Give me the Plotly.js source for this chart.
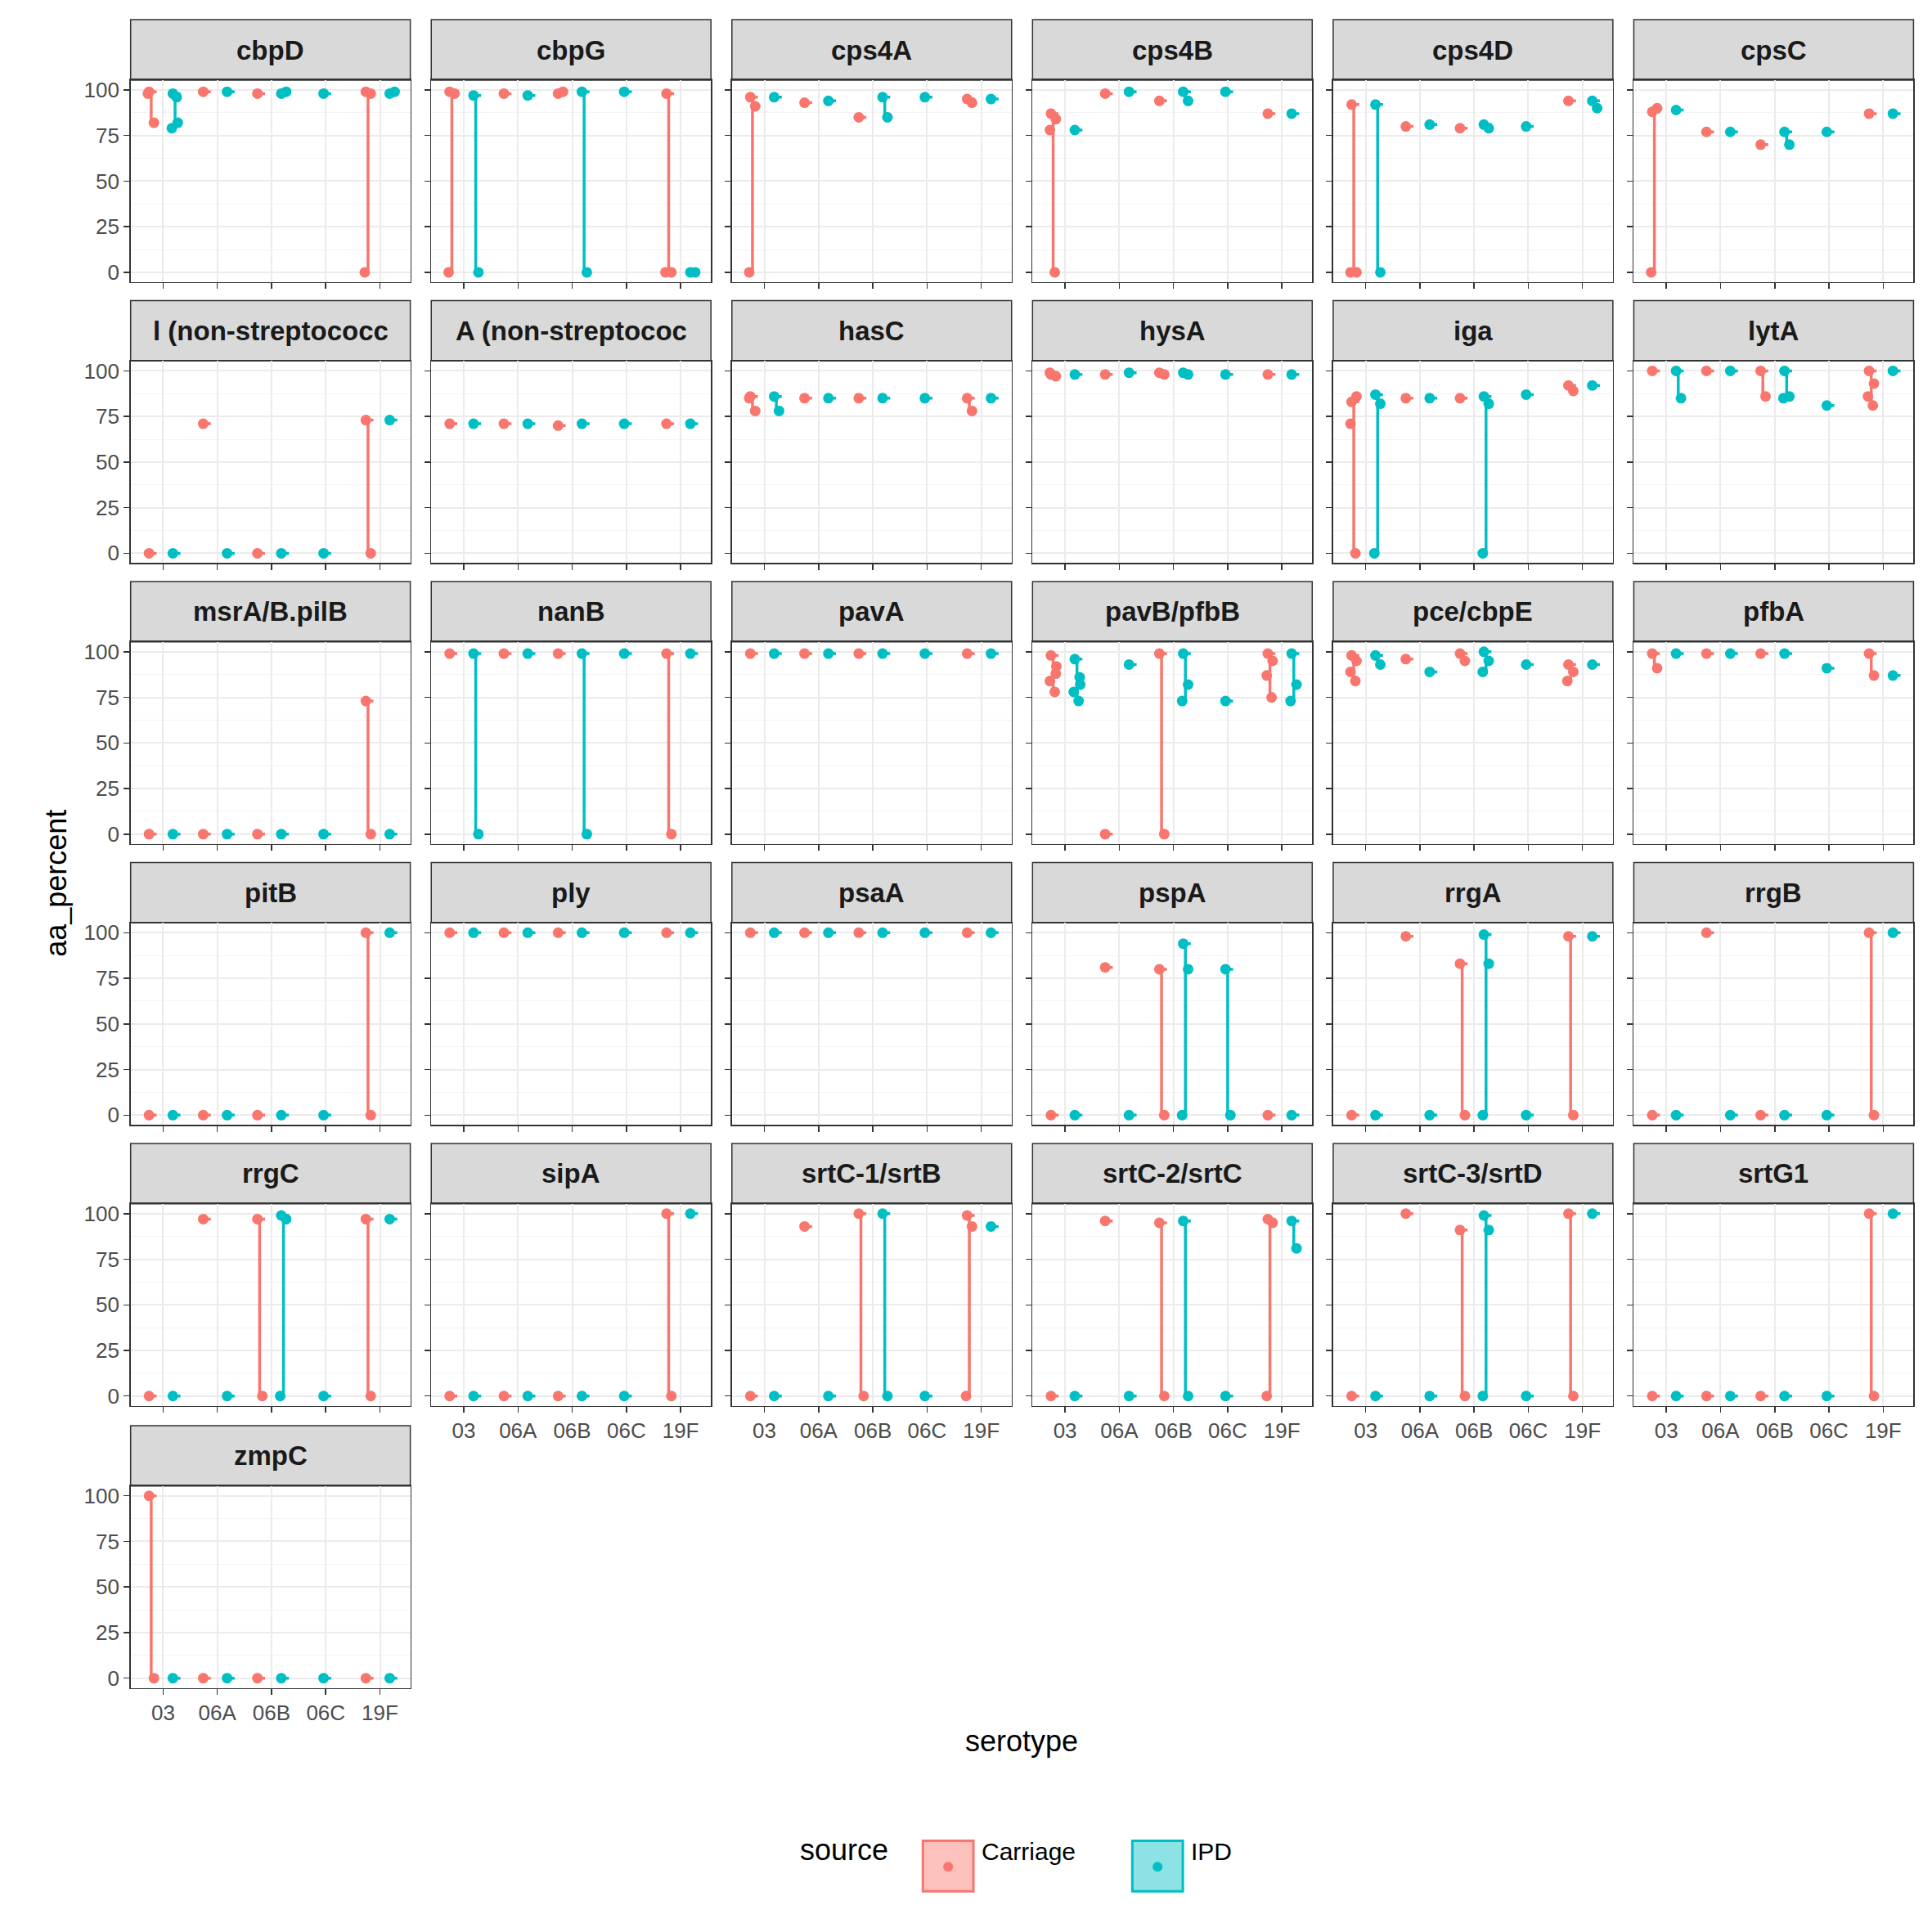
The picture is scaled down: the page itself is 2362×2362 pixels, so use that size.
<!DOCTYPE html>
<html><head><script src="https://cdn.plot.ly/plotly-3.0.1.min.js"></script>
<style>body{margin:0}</style></head><body><div id="c" style="width:2362px;height:2362px"></div>
<script>
const serotypes = ["03","06A","06B","06C","19F"];
const genes = ["cbpD","cbpG","cps4A","cps4B","cps4D","cpsC","l (non-streptococc","A (non-streptococ","hasC","hysA","iga","lytA","msrA/B.pilB","nanB","pavA","pavB/pfbB","pce/cbpE","pfbA","pitB","ply","psaA","pspA","rrgA","rrgB","rrgC","sipA","srtC-1/srtB","srtC-2/srtC","srtC-3/srtD","srtG1","zmpC"];
const carriage = [
 [[99,82,98],[99],[98],[],[99,98,0]],
 [[99,98,0],[98],[98,99],[],[98,0,0]],
 [[96,91,0],[93],[85],[],[95,93]],
 [[87,84,78,0],[98],[94],[],[87]],
 [[92,0,0],[80],[79],[],[94]],
 [[88,90,0],[77],[70],[],[87]],
 [[0],[71],[0],[],[73,0]],
 [[71],[71],[70],[],[71]],
 [[86,78,85],[85],[85],[],[85,78]],
 [[98,97,99],[98],[99,98],[],[98]],
 [[83,86,71,0],[85],[85],[],[92,89]],
 [[100],[100],[100,86],[],[100,93,86,81]],
 [[0],[0],[0],[],[73,0]],
 [[99],[99],[99],[],[99,0]],
 [[99],[99],[99],[],[99]],
 [[98,88,84,78,92],[0],[99,0],[],[99,95,87,75]],
 [[98,95,89,84],[96],[99,95],[],[93,89,84]],
 [[99,91],[99],[99],[],[99,87]],
 [[0],[0],[0],[],[100,0]],
 [[100],[100],[100],[],[100]],
 [[100],[100],[100],[],[100]],
 [[0],[81],[80,0],[],[0]],
 [[0],[98],[83,0],[],[98,0]],
 [[0],[100],[0],[],[100,0]],
 [[0],[97],[97,0],[],[97,0]],
 [[0],[0],[0],[],[100,0]],
 [[0],[93],[100,0],[],[99,93,0]],
 [[0],[96],[95,0],[],[97,95,0]],
 [[0],[100],[91,0],[],[100,0]],
 [[0],[0],[0],[],[100,0]],
 [[100,0],[0],[0],[],[0]]
];
const ipd = [
 [[98,82,79,96],[99],[98,99],[98],[98,99]],
 [[97,0],[97],[99,0],[99],[0,0]],
 [[96],[94],[96,85],[96],[95]],
 [[78],[99],[99,94],[99],[87]],
 [[92,0],[81],[81,79],[80],[94,90]],
 [[89],[77],[77,70],[77],[87]],
 [[0],[0],[0],[0],[73]],
 [[71],[71],[71],[71],[71]],
 [[86,78],[85],[85],[85],[85]],
 [[98],[99],[99,98],[98],[98]],
 [[87,82,0],[85],[86,82,0],[87],[92]],
 [[100,85],[100],[100,86,85],[81],[100]],
 [[0],[0],[0],[0],[0]],
 [[99,0],[99],[99,0],[99],[99]],
 [[99],[99],[99],[99],[99]],
 [[96,86,78,73,82],[93],[99,82,73],[73],[99,82,73]],
 [[98,93],[89],[100,95,89],[93],[93]],
 [[99],[99],[99],[91],[87]],
 [[0],[0],[0],[0],[100]],
 [[100],[100],[100],[100],[100]],
 [[100],[100],[100],[100],[100]],
 [[0],[0],[94,80,0],[80,0],[0]],
 [[0],[0],[99,83,0],[0],[98]],
 [[0],[0],[0],[0],[100]],
 [[0],[0],[99,97,0],[0],[97]],
 [[0],[0],[0],[0],[100]],
 [[0],[0],[100,0],[0],[93]],
 [[0],[0],[96,0],[0],[96,81]],
 [[0],[0],[99,91,0],[0],[100]],
 [[0],[0],[0],[0],[100]],
 [[0],[0],[0],[0],[0]]
];
const COLS={C:"#F8766D",I:"#00BFC4"};
const colLeft=[106,350,594,838,1082,1326], pw=227, ph=164;
const rowTop=[65,293,521,749,977,1206];
const traces=[], shapes=[], annotations=[];
const layout={width:2362,height:2362,margin:{l:0,r:0,t:0,b:0},paper_bgcolor:"white",plot_bgcolor:"white",showlegend:false,font:{family:"Liberation Sans, Arial",color:"#4d4d4d"}};
const jit=[-0.04,0.05,-0.06,0.03,0.06];
genes.forEach((g,i)=>{
  const row=Math.floor(i/6), col=i%6, k=i+1;
  const xa="x"+(k>1?k:""), ya="y"+(k>1?k:"");
  const x0=colLeft[col]/1568, x1=(colLeft[col]+pw)/1568;
  const yt=1-rowTop[row]/1568, yb=1-(rowTop[row]+ph)/1568;
  const bottom = (col===0&&row===5)||(col>0&&row===4);
  layout["xaxis"+(k>1?k:"")]={domain:[x0,x1],anchor:ya,range:[-0.6,4.56],tickvals:[0,1,2,3,4],ticktext:serotypes,showticklabels:bottom,ticks:"outside",ticklen:7,tickwidth:1.5,tickcolor:"#333",showgrid:true,gridcolor:"#ebebeb",gridwidth:2,showline:true,mirror:true,linecolor:"#333",linewidth:1.5,zeroline:false,tickfont:{size:26,color:"#4d4d4d"}};
  layout["yaxis"+(k>1?k:"")]={domain:[yb,yt],anchor:xa,range:[-5.4,105.4],tickvals:[0,25,50,75,100],showticklabels:col===0,ticks:"outside",ticklen:7,tickwidth:1.5,tickcolor:"#333",showgrid:true,gridcolor:"#ebebeb",gridwidth:2,minor:{tick0:12.5,dtick:25,showgrid:true,gridcolor:"#f4f4f4",gridwidth:1},showline:true,mirror:true,linecolor:"#333",linewidth:1.5,zeroline:false,tickfont:{size:26,color:"#4d4d4d"}};
  const st=1-(rowTop[row]-49)/1568;
  shapes.push({type:"rect",xref:"paper",yref:"paper",x0:x0,x1:x1,y0:yt,y1:st,fillcolor:"#d9d9d9",line:{color:"#333",width:1.5},layer:"below"});
  annotations.push({xref:"paper",yref:"paper",x:(x0+x1)/2,y:(yt+st)/2,text:"<b>"+g+"</b>",showarrow:false,font:{size:33,color:"#1a1a1a"},xanchor:"center",yanchor:"middle"});
  [["C",carriage[i]],["I",ipd[i]]].forEach(([src,data])=>{
    const lx=[],ly=[],px=[],py=[];
    data.forEach((vals,s)=>{
      if(!vals.length) return;
      const other=(src==="C"?ipd[i][s]:carriage[i][s]);
      const off=other.length?(src==="C"?-0.22:0.22):0;
      const c=s+off;
      const mn=Math.min(...vals), mx=Math.max(...vals);
      if(mx>mn){lx.push(c,c,null);ly.push(mn,mx,null);}
      lx.push(c-0.1,c+0.1,null);ly.push(vals[0],vals[0],null);
      vals.forEach((v,j)=>{px.push(c+jit[j%5]);py.push(v);});
    });
    traces.push({type:"scatter",mode:"lines",x:lx,y:ly,xaxis:xa,yaxis:ya,line:{color:COLS[src],width:3.5},hoverinfo:"skip"});
    traces.push({type:"scatter",mode:"markers",x:px,y:py,xaxis:xa,yaxis:ya,marker:{color:COLS[src],size:13},hoverinfo:"skip"});
  });
});
annotations.push({xref:"paper",yref:"paper",x:30/1568,y:1-717/1568,text:"aa_percent",textangle:-90,showarrow:false,font:{size:36,color:"#000"}});
annotations.push({xref:"paper",yref:"paper",x:829/1568,y:1-1428/1568,text:"serotype",showarrow:false,font:{size:36,color:"#000"}});
annotations.push({xref:"paper",yref:"paper",x:685/1568,y:1-1516/1568,text:"source",showarrow:false,font:{size:36,color:"#000"}});
[["Carriage",747,"#F8766D","rgba(248,118,109,0.45)"],["IPD",917,"#00BFC4","rgba(0,191,196,0.45)"]].forEach(([t,bx,c,f])=>{
  shapes.push({type:"rect",xref:"paper",yref:"paper",x0:(bx+2)/1568,x1:(bx+43)/1568,y0:1-1535/1568,y1:1-1494/1568,fillcolor:f,line:{color:c,width:3}});
  shapes.push({type:"circle",xref:"paper",yref:"paper",x0:(bx+18.5)/1568,x1:(bx+26.5)/1568,y0:1-1519/1568,y1:1-1511/1568,fillcolor:c,line:{width:0}});
  annotations.push({xref:"paper",yref:"paper",x:(bx+48)/1568,y:1-1515/1568,xanchor:"left",text:t,showarrow:false,font:{size:30,color:"#000"}});
});
layout.shapes=shapes;layout.annotations=annotations;
Plotly.newPlot("c",traces,layout,{staticPlot:true});
</script></body></html>
